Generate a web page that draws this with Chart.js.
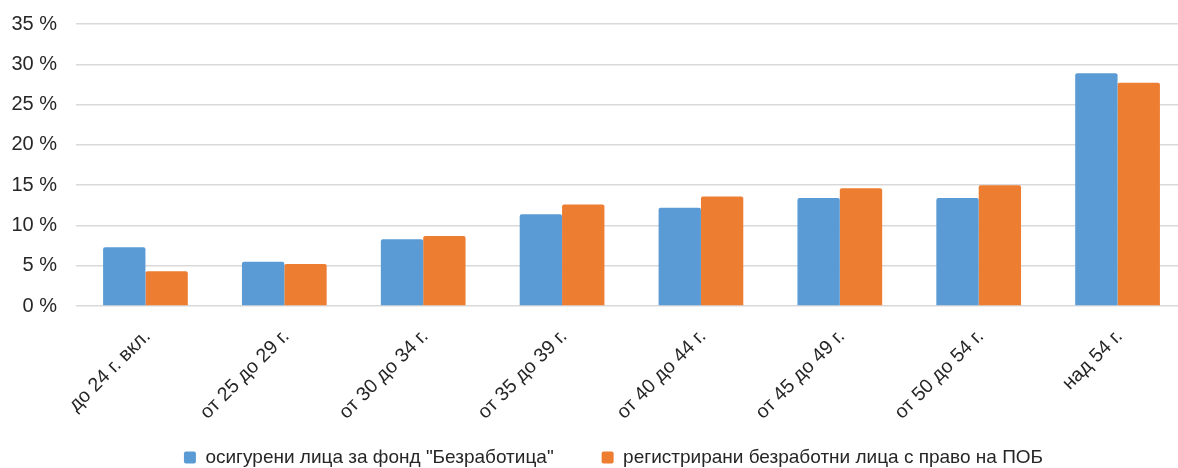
<!DOCTYPE html>
<html>
<head>
<meta charset="utf-8">
<script src="https://cdn.jsdelivr.net/npm/chart.js@4.4.1/dist/chart.umd.min.js"></script>
<style>
  html, body { margin: 0; padding: 0; background: #fff; overflow: hidden; }
  #wrap { width: 1190px; height: 468px; }
</style>
</head>
<body>
<div id="wrap"><canvas id="chart"></canvas></div>
<script>
const categories = ["до 24 г. вкл.", "от 25 до 29 г.", "от 30 до 34 г.", "от 35 до 39 г.", "от 40 до 44 г.", "от 45 до 49 г.", "от 50 до 54 г.", "над 54 г."];
const insured = [7.3, 5.5, 8.3, 11.4, 12.2, 13.4, 13.4, 28.9];
const registered = [4.3, 5.2, 8.7, 12.6, 13.6, 14.6, 15.0, 27.7];
const seriesNames = ["осигурени лица за фонд \"Безработица\"", "регистрирани безработни лица с право на ПОБ"];
const yTicks = [0, 5, 10, 15, 20, 25, 30, 35];

const textColor = "#262626";
const font = "'Liberation Sans', Arial, sans-serif";

// legend is kept short in the layout (so the rotated labels are not clipped),
// then its box is stretched up so the items are drawn in place
const legendShift = {
  id: "legendShift",
  afterLayout(chart) {
    const l = chart.legend;
    l.left += 20;
    l.right += 20;
    l.top -= 38;
  }
};

new Chart(document.getElementById("chart"), {
  type: "bar",
  data: {
    labels: categories,
    datasets: [
      { label: seriesNames[0], data: insured, backgroundColor: "#5B9BD5", borderRadius: 2, borderSkipped: "bottom" },
      { label: seriesNames[1], data: registered, backgroundColor: "#ED7D31", borderRadius: 2, borderSkipped: "bottom" }
    ]
  },
  options: {
    responsive: true,
    maintainAspectRatio: false,
    animation: false,
    layout: { padding: { top: 0, right: 3, left: 0, bottom: 0 } },
    categoryPercentage: 0.61,
    barPercentage: 1.0,
    scales: {
      x: {
        grid: { display: false },
        border: { display: false },
        afterFit(axis) { axis.height = 132; },
        ticks: {
          color: textColor,
          font: { family: font, size: 19.5 },
          minRotation: 45,
          maxRotation: 45,
          padding: 11,
          labelOffset: 2
        }
      },
      y: {
        min: 0,
        max: 35,
        afterBuildTicks(axis) { axis.ticks = yTicks.map(v => ({ value: v })); },
        afterFit(axis) {
          axis.width = 76;
          axis.paddingTop = 24;
        },
        grid: { color: "#d9d9d9", lineWidth: 1.5, drawTicks: false },
        border: { display: false },
        ticks: {
          color: textColor,
          font: { family: font, size: 20 },
          padding: 19,
          callback: v => v + " %"
        }
      }
    },
    plugins: {
      legend: {
        position: "bottom",
        maxHeight: 30,
        labels: {
          color: textColor,
          font: { family: font, size: 19 },
          boxWidth: 12,
          boxHeight: 12,
          padding: 48,
          useBorderRadius: true,
          borderRadius: 2
        }
      },
      tooltip: { enabled: false }
    }
  },
  plugins: [legendShift]
});
</script>
</body>
</html>
